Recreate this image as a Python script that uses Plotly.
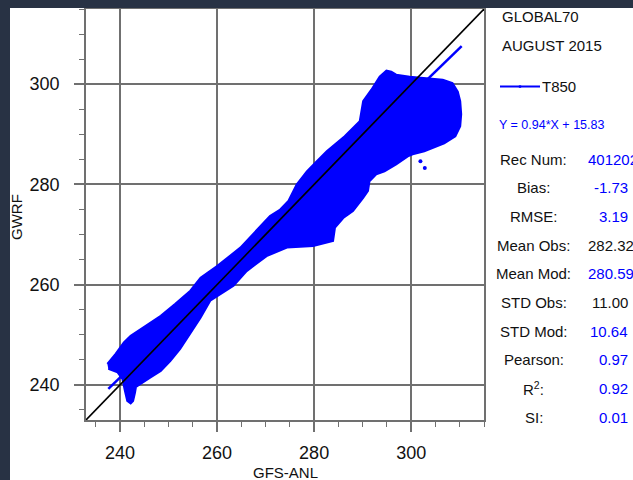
import plotly.graph_objects as go

# ---------------- data ----------------
# outline of the dense T850 scatter cloud (GFS-ANL x, GWRF y)
cloud_x = [237.4, 239.1, 240.8, 242.2, 245.3, 248.4, 251.4, 254.5, 256.6, 260.0,
           264.8, 270.9, 273.0, 274.7, 276.4, 278.5, 280.2, 282.6, 286.3, 289.4,
           290.1, 291.8, 293.5, 294.9, 295.9, 296.9, 299.7, 303.1, 306.5, 308.5,
           309.6, 310.1, 310.3, 310.1, 309.1, 306.8, 302.7, 300.3, 299.3, 296.9,
           294.5, 292.8, 291.4, 291.1, 290.1, 288.0, 286.0, 284.3, 283.9, 279.8,
           274.4, 270.2, 266.1, 263.4, 258.6, 256.6, 254.5, 252.4, 250.4, 248.4,
           246.3, 244.2, 243.3, 243.1, 242.7, 242.2, 241.5, 241.0, 240.5, 239.5,
           237.6]
cloud_y = [244.2, 246.2, 248.5, 249.8, 251.8, 253.8, 256.2, 258.8, 261.4, 263.7,
           267.4, 273.7, 275.0, 276.7, 280.0, 282.6, 284.3, 286.6, 289.6, 292.6,
           296.6, 298.9, 301.5, 302.7, 302.5, 301.9, 301.5, 301.2, 300.9, 300.2,
           298.5, 296.6, 294.0, 291.6, 289.6, 288.2, 286.6, 286.0, 285.6, 284.0,
           282.6, 282.0, 280.6, 278.7, 277.3, 274.7, 273.3, 271.4, 268.7, 267.7,
           267.4, 265.7, 262.7, 259.8, 256.8, 253.4, 250.4, 247.2, 244.8, 242.8,
           241.5, 240.2, 239.6, 238.5, 236.8, 236.3, 236.8, 238.9, 241.2, 242.5,
           243.2]
stray_x = [302.8, 301.9]
stray_y = [283.3, 284.6]

# regression line Y = 0.94*X + 15.83 (end points)
reg_x = [237.6, 310.4]
reg_y = [239.2, 307.6]

# 1:1 reference line
diag_x = [233, 315]
diag_y = [233, 315]

axis_range = [233, 315]
tick_vals = [240, 260, 280, 300]
tick_text = ["240", "260", "280", "300"]

title_lines = ["GLOBAL70", "AUGUST 2015"]
series_name = "T850"
equation = "Y = 0.94*X + 15.83"
stat_labels = ["Rec Num:", "Bias:", "RMSE:", "Mean Obs:", "Mean Mod:",
               "STD Obs:", "STD Mod:", "Pearson:", "R<sup>2</sup>:", "SI:"]
stat_values = ["401202", "-1.73", "3.19", "282.32", "280.59",
               "11.00", "10.64", "0.97", "0.92", "0.01"]
stat_colors = ["blue", "blue", "blue", "black", "blue",
               "black", "blue", "blue", "blue", "blue"]

# ---------------- layout helpers ----------------
W, H = 633, 480
L, R, T, B = 86, 484, 7, 420          # plot area in pixels


def px(x):
    return (x - L) / (R - L)


def py(y):
    return (B - y) / (B - T)


FONT = "Liberation Sans, Arial, Helvetica, sans-serif"
BLUE = "#0000ff"
GRID = "#707070"
DARK = "#283244"

fig = go.Figure()
fig.add_trace(go.Scatter(x=cloud_x, y=cloud_y, mode="lines", fill="toself",
                         fillcolor=BLUE, line=dict(color=BLUE, width=2),
                         hoverinfo="skip", showlegend=False))
fig.add_trace(go.Scatter(x=stray_x, y=stray_y, mode="markers",
                         marker=dict(color=BLUE, size=4), showlegend=False))
fig.add_trace(go.Scatter(x=reg_x, y=reg_y, mode="lines",
                         line=dict(color=BLUE, width=2.5), name=series_name,
                         showlegend=False))
fig.add_trace(go.Scatter(x=diag_x, y=diag_y, mode="lines",
                         line=dict(color="black", width=1.6), showlegend=False))

axis_common = dict(
    range=axis_range, tickvals=tick_vals, ticktext=tick_text,
    showgrid=True, gridcolor=GRID, gridwidth=1.5,
    showline=True, linecolor=GRID, linewidth=1.5, mirror=True,
    ticks="outside", ticklen=10, tickwidth=1.5, tickcolor=GRID,
    tickfont=dict(family=FONT, size=18, color="#111111"),
    minor=dict(dtick=5, tick0=240, ticks="outside", ticklen=5,
               tickwidth=1, tickcolor=GRID, showgrid=False),
    zeroline=False, fixedrange=True,
)
fig.update_xaxes(**axis_common, ticklabelstandoff=6)
fig.update_yaxes(**axis_common, ticklabelstandoff=11)

ann = []
ann.append(dict(text="GFS-ANL", x=0.5, y=py(473), xref="paper", yref="paper",
                showarrow=False, font=dict(family=FONT, size=15, color="#111111"),
                xanchor="center", yanchor="middle"))
ann.append(dict(text="GWRF", x=px(17), y=py(216), xref="paper", yref="paper",
                showarrow=False, textangle=-90,
                font=dict(family=FONT, size=15, color="#111111"),
                xanchor="center", yanchor="middle"))
for txt, yy in zip(title_lines, [15, 44]):
    ann.append(dict(text=txt, x=px(500), y=py(yy), xref="paper", yref="paper",
                    showarrow=False, font=dict(family=FONT, size=15, color="#111111"),
                    xanchor="left", yanchor="middle"))
ann.append(dict(text=series_name, x=px(540), y=py(85), xref="paper", yref="paper",
                showarrow=False, font=dict(family=FONT, size=15, color="#111111"),
                xanchor="left", yanchor="middle"))
ann.append(dict(text=equation, x=px(497), y=py(124), xref="paper", yref="paper",
                showarrow=False, font=dict(family=FONT, size=12.5, color=BLUE),
                xanchor="left", yanchor="middle"))
for i, (lab, val, col) in enumerate(zip(stat_labels, stat_values, stat_colors)):
    yy = 158 + i * 28.8
    ann.append(dict(text=lab, x=px(533.5), y=py(yy), xref="paper", yref="paper",
                    showarrow=False, font=dict(family=FONT, size=15, color="#111111"),
                    xanchor="center", yanchor="middle"))
    c = BLUE if col == "blue" else "#111111"
    if len(val) >= 6:
        ann.append(dict(text=val, x=px(586), y=py(yy), xref="paper", yref="paper",
                        showarrow=False, font=dict(family=FONT, size=15, color=c),
                        xanchor="left", yanchor="middle"))
    else:
        ann.append(dict(text=val, x=px(630), y=py(yy), xref="paper", yref="paper",
                        showarrow=False, font=dict(family=FONT, size=15, color=c),
                        xanchor="right", yanchor="middle"))

shapes = [
    # legend sample line
    dict(type="line", xref="paper", yref="paper", x0=px(500), x1=px(540),
         y0=py(85), y1=py(85), line=dict(color=BLUE, width=2)),
    dict(type="circle", xref="paper", yref="paper", x0=px(518.5), x1=px(521.5),
         y0=py(86.5), y1=py(83.5), fillcolor=BLUE, line=dict(color=BLUE, width=0)),
    # dark page border strips
    dict(type="rect", xref="paper", yref="paper", x0=px(-5), x1=px(W + 5),
         y0=py(6), y1=py(-5), fillcolor=DARK, line=dict(width=0), layer="above"),
    dict(type="rect", xref="paper", yref="paper", x0=px(-5), x1=px(10),
         y0=py(H + 5), y1=py(-5), fillcolor=DARK, line=dict(width=0), layer="above"),
]

fig.update_layout(
    width=W, height=H,
    margin=dict(l=L, r=W - R, t=T, b=H - B, pad=0),
    paper_bgcolor="white", plot_bgcolor="white",
    showlegend=False, annotations=ann, shapes=shapes,
    font=dict(family=FONT),
)

fig.write_html("out.html")
